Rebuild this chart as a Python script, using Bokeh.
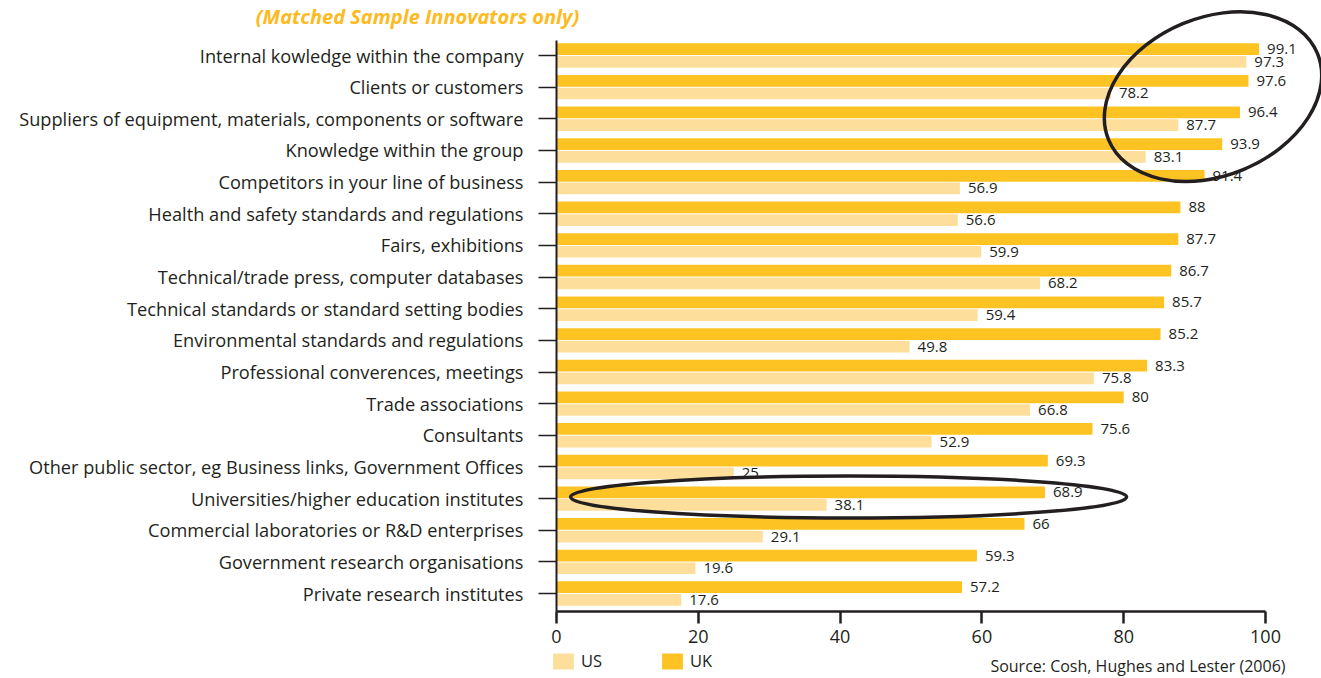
from bokeh.plotting import figure
from bokeh.models import (Range1d, FixedTicker, ColumnDataSource, Legend, LegendItem, Label)
from bokeh.core.properties import value
from bokeh.embed import file_html
from bokeh.resources import INLINE

categories = [
    "Internal kowledge within the company",
    "Clients or customers",
    "Suppliers of equipment, materials, components or software",
    "Knowledge within the group",
    "Competitors in your line of business",
    "Health and safety standards and regulations",
    "Fairs, exhibitions",
    "Technical/trade press, computer databases",
    "Technical standards or standard setting bodies",
    "Environmental standards and regulations",
    "Professional converences, meetings",
    "Trade associations",
    "Consultants",
    "Other public sector, eg Business links, Government Offices",
    "Universities/higher education institutes",
    "Commercial laboratories or R&D enterprises",
    "Government research organisations",
    "Private research institutes",
]
uk_values = [99.1, 97.6, 96.4, 93.9, 91.4, 88, 87.7, 86.7, 85.7, 85.2, 83.3, 80, 75.6, 69.3, 68.9, 66, 59.3, 57.2]
us_values = [97.3, 78.2, 87.7, 83.1, 56.9, 56.6, 59.9, 68.2, 59.4, 49.8, 75.8, 66.8, 52.9, 25, 38.1, 29.1, 19.6, 17.6]
x_ticks = [0, 20, 40, 60, 80, 100]
title_text = "(Matched Sample Innovators only)"
source_text = "Source: Cosh, Hughes and Lester (2006)"

UK_COLOR = "#FDC322"
US_COLOR = "#FEDE9B"
TEXT_COLOR = "#231F20"
TITLE_COLOR = "#FDBA21"
FONT = "Open Sans"

idx = list(range(len(categories)))
uk_y = [i - 0.2 for i in idx]
us_y = [i + 0.2 for i in idx]

uk_src = ColumnDataSource(dict(y=uk_y, v=uk_values, lbl=[f"{v:g}" for v in uk_values]))
us_src = ColumnDataSource(dict(y=us_y, v=us_values, lbl=[f"{v:g}" for v in us_values]))

W, H = 1321, 678
p = figure(width=W, height=H, output_backend="svg", toolbar_location=None,
           x_range=Range1d(-78.42, 107.9), y_range=Range1d(19.684, -1.738),
           min_border=0, min_border_left=0, min_border_right=0,
           min_border_top=0, min_border_bottom=0)
p.outline_line_color = None
p.xgrid.visible = False
p.ygrid.visible = False
p.background_fill_color = "white"
p.border_fill_color = "white"

r_uk = p.hbar(y="y", right="v", left=0, height=0.37, source=uk_src,
              fill_color=UK_COLOR, line_color=None)
r_us = p.hbar(y="y", right="v", left=0, height=0.37, source=us_src,
              fill_color=US_COLOR, line_color=None)

for src in (uk_src, us_src):
    p.text(x="v", y="y", text="lbl", source=src, x_offset=8,
           text_font=value(FONT), text_font_size="15px", text_color=TEXT_COLOR,
           text_baseline="middle", text_align="left")

# annotation ellipses
p.ellipse(x=[92.6], y=[1.3], width=226, height=158, width_units="screen",
          height_units="screen", angle=22.5, angle_units="deg",
          fill_color=None, line_color=TEXT_COLOR, line_width=3.5)
p.ellipse(x=[41.2], y=[13.95], width=556, height=42, width_units="screen",
          height_units="screen", angle=0,
          fill_color=None, line_color=TEXT_COLOR, line_width=3.5)

# axes
xa = p.xaxis[0]
xa.fixed_location = 17.57
xa.ticker = FixedTicker(ticks=x_ticks)
xa.bounds = (0, 100)
xa.axis_line_width = 2.5
xa.axis_line_color = TEXT_COLOR
xa.major_tick_line_color = TEXT_COLOR
xa.major_tick_line_width = 2.5
xa.major_tick_out = 12
xa.major_tick_in = 0
xa.minor_tick_line_color = None
xa.major_label_text_font = FONT
xa.major_label_text_font_size = "18px"
xa.major_label_text_color = TEXT_COLOR
xa.major_label_standoff = 6

ya = p.yaxis[0]
ya.fixed_location = 0
ya.ticker = FixedTicker(ticks=idx)
ya.major_label_overrides = {i: c for i, c in zip(idx, categories)}
ya.bounds = (-0.47, 17.57)
ya.axis_line_width = 2
ya.axis_line_color = TEXT_COLOR
ya.major_tick_line_color = TEXT_COLOR
ya.major_tick_line_width = 1.5
ya.major_tick_out = 18
ya.major_tick_in = 0
ya.minor_tick_line_color = None
ya.major_label_text_font = FONT
ya.major_label_text_font_size = "18.2px"
ya.major_label_text_color = TEXT_COLOR
ya.major_label_standoff = 15

legend = Legend(items=[LegendItem(label="US", renderers=[r_us]),
                       LegendItem(label="UK", renderers=[r_uk])],
                orientation="horizontal", location=(550, 6),
                glyph_width=26, glyph_height=20, label_standoff=5, spacing=57,
                padding=0, margin=0, border_line_color=None, background_fill_alpha=0,
                label_text_font=FONT, label_text_font_size="16.5px",
                label_text_color=TEXT_COLOR, label_height=20)
p.add_layout(legend)

p.add_layout(Label(x=417, y=H - 2, x_units="screen", y_units="screen", text=title_text,
                   text_font=FONT, text_font_size="20px", text_font_style="bold italic",
                   text_color=TITLE_COLOR, text_align="center", text_baseline="top"))
p.add_layout(Label(x=1285, y=2, x_units="screen", y_units="screen", text=source_text,
                   text_font=FONT, text_font_size="16px", text_color=TEXT_COLOR,
                   text_align="right", text_baseline="bottom"))

open("out.html", "w").write(file_html(p, INLINE))
